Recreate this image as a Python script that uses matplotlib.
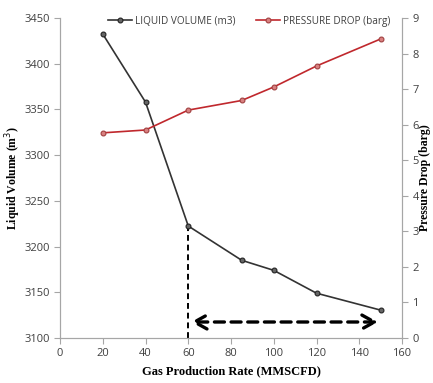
import matplotlib
matplotlib.use("Agg")
import matplotlib.pyplot as plt

gas_rate = [20, 40, 60, 85, 100, 120, 150]
liquid_volume = [3432.5, 3358, 3222.5, 3185, 3174, 3149, 3130.5]
pressure_drop = [5.77, 5.85, 6.41, 6.68, 7.06, 7.65, 8.41]
x_ticks = [0, 20, 40, 60, 80, 100, 120, 140, 160]
y1_ticks = [3100, 3150, 3200, 3250, 3300, 3350, 3400, 3450]
y2_ticks = list(range(0, 10))
marker_x = 60
arrow_start, arrow_end, arrow_level = 60, 150, 3117.5

fig = plt.figure(figsize=(4.33, 3.83), dpi=100)
ax = fig.add_axes([0.1386, 0.1175, 0.7898, 0.8355])
ax2 = ax.twinx()

tick_font = "Open Sans"
label_font = "Liberation Serif"
spine_color = "#a6a6a6"
tick_color = "#404040"

l1, = ax.plot(gas_rate, liquid_volume, color="#333333", lw=1.2, marker="o",
              ms=3.5, mfc="#666666", mec="#222222", mew=0.8,
              label="LIQUID VOLUME (m3)", zorder=3)
l2, = ax2.plot(gas_rate, pressure_drop, color="#c0282d", lw=1.2, marker="o",
               ms=3.5, mfc="#d98080", mec="#a04040", mew=0.8,
               label="PRESSURE DROP (barg)", zorder=3)

ax.set_xlim(0, 160)
ax.set_ylim(3100, 3450)
ax2.set_ylim(0, 9)
ax.set_xticks(x_ticks)
ax.set_yticks(y1_ticks)
ax2.set_yticks(y2_ticks)

# dashed guide and double arrow
ax.plot([marker_x, marker_x], [3100, liquid_volume[2]], color="black", lw=1.4,
        ls=(0, (3, 2)), zorder=2)
ax.annotate("", xy=(arrow_start, arrow_level), xytext=(arrow_end, arrow_level),
            arrowprops=dict(arrowstyle="<->,head_length=0.9,head_width=0.5",
                            color="black", lw=2.4, ls=(0, (3, 2))))

for a in (ax, ax2):
    a.spines["top"].set_visible(False)
    for s in ("left", "right", "bottom"):
        a.spines[s].set_color(spine_color)
    a.tick_params(colors=spine_color, labelcolor=tick_color, length=4, width=0.8)
    for lab in a.get_xticklabels() + a.get_yticklabels():
        lab.set_fontfamily(tick_font)
        lab.set_fontsize(8)

ax.set_xlabel("Gas Production Rate (MMSCFD)", fontfamily=label_font,
              fontweight="bold", fontsize=9, labelpad=4)
ax.set_ylabel("Liquid Volume (m$^3$)", fontfamily=label_font,
              fontweight="bold", fontsize=8.5)
ax2.set_ylabel("Pressure Drop (barg)", fontfamily=label_font,
               fontweight="bold", fontsize=8.5)
ax.yaxis.set_label_coords(-0.108, 0.5)
ax2.yaxis.set_label_coords(1.05, 0.5)

leg = ax.legend(handles=[l1, l2], loc="lower left", bbox_to_anchor=(0.13, 0.96),
                ncol=2, frameon=False, prop={"family": tick_font, "size": 7.2},
                handlelength=2.4, columnspacing=2.0, borderaxespad=0, handletextpad=0.3)
for t in leg.get_texts():
    t.set_color(tick_color)

fig.savefig("out.png", dpi=100)
